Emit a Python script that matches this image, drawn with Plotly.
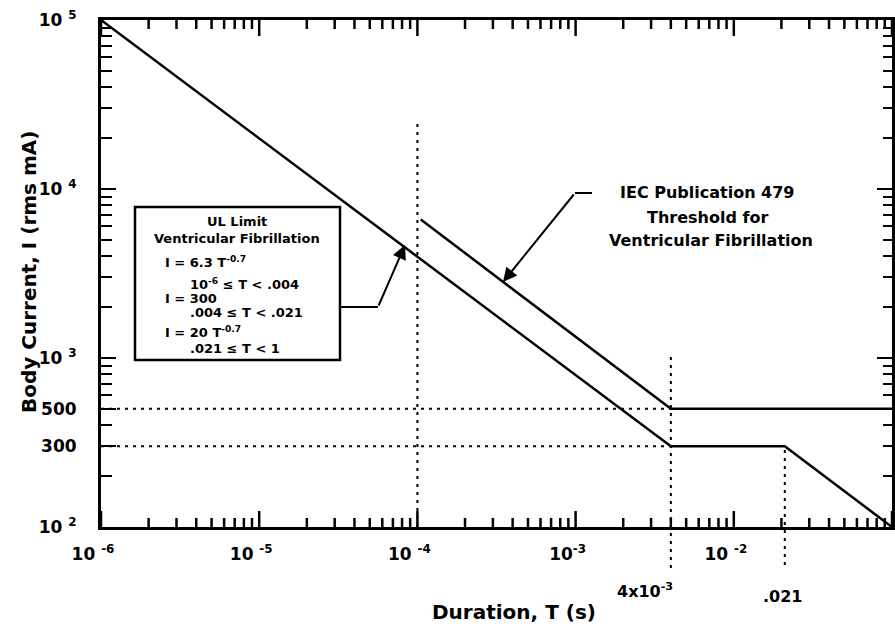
import math
import plotly.graph_objects as go

# ---- data ----
T_ul = [1e-6, 4e-3, 0.021, 0.1]          # UL limit line (s)
I_ul = [1e5, 300, 300, 100]               # rms mA
T_iec = [1.05e-4, 4e-3, 0.12]             # IEC 479 threshold line
I_iec = [6600, 500, 500]
ref_I = [500, 300]                        # dotted horizontal reference levels
ref_T_end = 4e-3
vline_T = [1e-4, 4e-3, 0.021]             # dotted vertical reference lines
vline_top = [2.56e4, 1050, 300]
x_tickvals = [1e-6, 1e-5, 1e-4, 1e-3, 1e-2, 1e-1]
x_ticktext = ["10 <sup>-6</sup>", "10 <sup>-5</sup>", "10 <sup>-4</sup>",
              "10<sup>-3</sup>", "10 <sup>-2</sup>", "10 <sup>-1</sup>"]
y_tickvals = [100, 300, 500, 1000, 10000, 100000]
y_ticktext = ["10 <sup>2</sup>", "300", "500", "10 <sup>3</sup>", "10 <sup>4</sup>", "10 <sup>5</sup>"]
minor_digits = [2, 3, 4, 5, 6, 7, 8, 9]
x_decades = [-6, -5, -4, -3, -2]
y_decades = [2, 3, 4]

W, H = 895, 636
L, R, TOP, BOT = 101, 892, 20, 527
FONT = "DejaVu Sans"
XR, YR = [-6, -1], [2, 5]
PH = BOT - TOP


def P(px, py):
    return (px - L) / (R - L), (BOT - py) / (BOT - TOP)


x_minor = [d * 10.0 ** e for e in x_decades for d in minor_digits]
y_minor = [d * 10.0 ** e for e in y_decades for d in minor_digits]
y_major_ticks = [100, 1000, 10000, 100000]

fig = go.Figure()
line_style = dict(color="black", width=2.5)
dot_style = dict(color="black", width=2, dash="3px,5px")

fig.add_trace(go.Scatter(x=T_ul, y=I_ul, mode="lines", line=line_style, hoverinfo="skip"))
fig.add_trace(go.Scatter(x=T_iec, y=I_iec, mode="lines", line=line_style, hoverinfo="skip"))
for lvl in ref_I:
    fig.add_trace(go.Scatter(x=[1e-6, ref_T_end], y=[lvl, lvl], mode="lines",
                             line=dot_style, hoverinfo="skip"))
fig.add_trace(go.Scatter(x=[vline_T[0], vline_T[0]], y=[100, vline_top[0]], mode="lines",
                         line=dot_style, hoverinfo="skip"))

# x-axis tick marks: one short vertical segment per tick, bottom (up) and top (down)
ymin, ymax = 10.0 ** YR[0], 10.0 ** YR[1]
for vals, ln in [(x_tickvals, 16), (x_minor, 9)]:
    f = 10.0 ** ((YR[1] - YR[0]) * ln / PH)
    for v in vals:
        fig.add_trace(go.Scatter(x=[v, v], y=[ymin, ymin * f], mode="lines",
                                 line=dict(color="black", width=2.5), hoverinfo="skip"))
        fig.add_trace(go.Scatter(x=[v, v], y=[ymax, ymax / f], mode="lines",
                                 line=dict(color="black", width=2.5), hoverinfo="skip"))

# invisible carriers for the extra tick axes (minor y ticks, top and right frames)
for xa, ya in [("x", "y2"), ("x3", "y3"), ("x", "y4")]:
    fig.add_trace(go.Scatter(x=[1e-6], y=[100], xaxis=xa, yaxis=ya, mode="markers",
                             marker=dict(opacity=0), hoverinfo="skip"))

shapes = []
for t, top, ybot in [(vline_T[1], vline_top[1], -0.081), (vline_T[2], vline_top[2], -0.075)]:
    ytop = (math.log10(top) - 2) / 3
    shapes.append(dict(type="line", xref="x", yref="paper", x0=t, x1=t, y0=ybot, y1=ytop,
                       line=dict(color="black", width=2, dash="3px,5px")))

bx0, by0 = P(135, 360)
bx1, by1 = P(340, 207)
shapes.append(dict(type="rect", xref="paper", yref="paper", x0=bx0, y0=by0, x1=bx1, y1=by1,
                   line=dict(color="black", width=2.5), fillcolor="white", layer="above"))
sx0, sy = P(340, 307)
sx1, _ = P(378, 307)
shapes.append(dict(type="line", xref="paper", yref="paper", x0=sx0, x1=sx1, y0=sy, y1=sy,
                   line=dict(color="black", width=2)))
ix0, iy = P(575, 193)
ix1, _ = P(592, 193)
shapes.append(dict(type="line", xref="paper", yref="paper", x0=ix0, x1=ix1, y0=iy, y1=iy,
                   line=dict(color="black", width=2)))

ann = []


def txt(text, px, py, size, xanchor="center"):
    x, y = P(px, py)
    ann.append(dict(text=text, x=x, y=y, xref="paper", yref="paper", showarrow=False,
                    xanchor=xanchor, yanchor="middle",
                    font=dict(family=FONT, size=size, color="black", weight="bold")))


bs = 13
txt("UL Limit", 237, 221, bs)
txt("Ventricular Fibrillation", 237, 238, bs)
txt("I = 6.3 T<sup>-0.7</sup>", 163, 262, bs, "left")
txt("10<sup>-6</sup> ≤ T &lt; .004", 188, 284, bs, "left")
txt("I = 300", 163, 298, bs, "left")
txt(".004 ≤ T &lt; .021", 188, 312, bs, "left")
txt("I = 20 T<sup>-0.7</sup>", 163, 332, bs, "left")
txt(".021 ≤ T &lt; 1", 188, 348, bs, "left")

txt("IEC Publication 479", 707, 193, 16)
txt("Threshold for", 707, 217, 16)
txt("Ventricular Fibrillation", 711, 240, 16)

txt("4x10<sup>-3</sup>", 645, 590, 16)
txt(".021", 782, 596, 16)

txt("Duration, T (s)", 514, 612, 20)
x, y = P(15, 272)
ann.append(dict(text="Body Current, I (rms mA)", x=x, y=y, xref="paper", yref="paper",
                showarrow=False, textangle=-90,
                font=dict(family=FONT, size=20, color="black", weight="bold")))

tx, ty = P(405, 245)
ann.append(dict(text="", x=tx, y=ty, xref="paper", yref="paper", showarrow=True,
                ax=378 - 405, ay=307 - 245, arrowhead=2, arrowsize=1.4, arrowwidth=2,
                arrowcolor="black", standoff=0))
tx, ty = P(503, 282)
ann.append(dict(text="", x=tx, y=ty, xref="paper", yref="paper", showarrow=True,
                ax=575 - 503, ay=193 - 282, arrowhead=2, arrowsize=1.4, arrowwidth=2,
                arrowcolor="black", standoff=0))

tickfont = dict(family=FONT, size=17, color="black", weight="bold")
common = dict(type="log", tickwidth=2, tickcolor="black", showgrid=False,
              zeroline=False, linecolor="black", linewidth=3)


def tick_axis(rng, vals, length, side, overlay, anchor, line):
    return dict(common, range=rng, tickmode="array", tickvals=vals, ticklen=length,
                ticks="inside", side=side, overlaying=overlay, anchor=anchor,
                showticklabels=False, showline=line)


fig.update_layout(
    width=W, height=H,
    margin=dict(l=L, r=W - R, t=TOP, b=H - BOT),
    paper_bgcolor="white", plot_bgcolor="white",
    showlegend=False,
    shapes=shapes, annotations=ann,
    xaxis=dict(common, range=XR, tickmode="array", tickvals=x_tickvals, ticktext=x_ticktext,
               ticks="", showline=True, tickfont=tickfont,
               ticklabelstandoff=10, ticklabelshift=-8),
    yaxis=dict(common, range=YR, tickmode="array", tickvals=y_tickvals, ticktext=y_ticktext,
               ticks="inside", ticklen=15, showline=True, tickfont=tickfont,
               ticklabelstandoff=18),
    yaxis2=tick_axis(YR, y_minor, 11, "left", "y", "x", False),
    xaxis3=dict(common, range=XR, side="top", overlaying="x", anchor="y3", ticks="",
                showticklabels=False, showline=True),
    yaxis3=tick_axis(YR, y_major_ticks, 15, "right", "y", "x3", True),
    yaxis4=tick_axis(YR, y_minor, 9, "right", "y", "x", False),
)

fig.write_html("out.html")
